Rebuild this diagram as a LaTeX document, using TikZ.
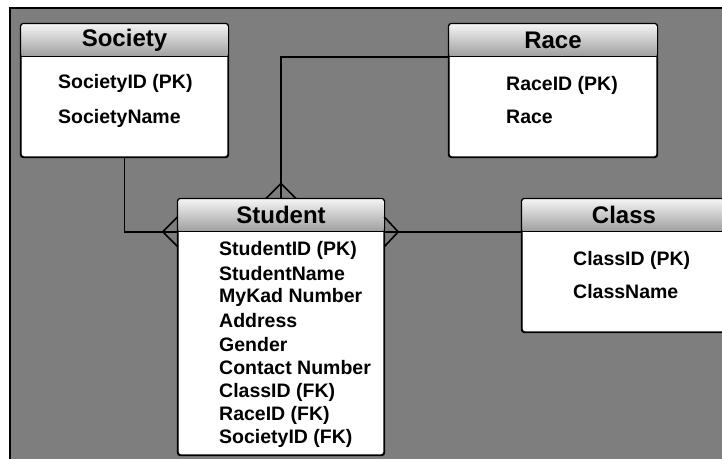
\documentclass[tikz,border=0pt]{standalone}
\usepackage{fontspec}
\setmainfont{Liberation Sans}
\definecolor{bggray}{HTML}{7E7E7E}
\begin{document}
\begin{tikzpicture}[x=1pt, y=-1pt,
  ebox/.style={draw, line width=1.2pt, rectangle, rounded corners=3pt,
               fill=white, inner sep=0pt},
  ehead/.style={rectangle, rounded corners=3pt, inner sep=0pt, anchor=north,
                minimum height=33pt, top color=white!96!black, bottom color=black!38,
                font=\fontsize{24}{28}\selectfont\bfseries},
  attr/.style={anchor=west, inner sep=0pt, font=\fontsize{19.5}{22}\selectfont\bfseries},
  rel/.style={line width=1.6pt},
  edge/.style={line width=1.2pt},
]
\useasboundingbox (0,0) rectangle (722,459);
\fill[bggray] (10,8) rectangle (722,459);
\draw[line width=1.5pt] (10,459) -- (10,8) -- (722,8);
% entity boxes
\node[ebox, minimum width=207pt, minimum height=133pt] (soc) at (124.5,90.5) {};
\node[ebox, minimum width=208pt, minimum height=133pt] (race) at (553,90.5) {};
\node[ebox, minimum width=206pt, minimum height=256pt] (stu) at (281,327) {};
\node[ebox, minimum width=204pt, minimum height=133pt] (cls) at (624,265.5) {};
\node[ehead, minimum width=207pt] (soch) at (soc.north) {Society};
\node[ehead, minimum width=208pt] (raceh) at (race.north) {Race};
\node[ehead, minimum width=206pt] (stuh) at (stu.north) {Student};
\node[ehead, minimum width=204pt] (clsh) at (cls.north) {Class};
\draw[edge, rounded corners=3pt] (soc.north west) rectangle (soc.south east);
\draw[edge, rounded corners=3pt] (race.north west) rectangle (race.south east);
\draw[edge, rounded corners=3pt] (stu.north west) rectangle (stu.south east);
\draw[edge, rounded corners=3pt] (cls.north west) rectangle (cls.south east);
\draw[edge] (soch.south west) -- (soch.south east);
\draw[edge] (raceh.south west) -- (raceh.south east);
\draw[edge] (stuh.south west) -- (stuh.south east);
\draw[edge] (clsh.south west) -- (clsh.south east);
% attributes
\node[attr] (socid) at (58,83) {SocietyID (PK)};
\node[attr] (socname) at (58,118) {SocietyName};
\node[attr] (raceid) at (506,85) {RaceID (PK)};
\node[attr] (racename) at (506,117) {Race};
\node[attr] (clsid) at (573,260) {ClassID (PK)};
\node[attr] (clsname) at (573,292) {ClassName};
\node[attr] (stuid) at (219,250) {StudentID (PK)};
\node[attr] (stuname) at (219,274) {StudentName};
\node[attr] (stukad) at (219,297) {MyKad Number};
\node[attr] (stuaddr) at (219,321) {Address};
\node[attr] (stugen) at (219,345) {Gender};
\node[attr] (stucon) at (219,368) {Contact Number};
\node[attr] (stucls) at (219,392) {ClassID (FK)};
\node[attr] (sturace) at (219,415) {RaceID (FK)};
\node[attr] (stusoc) at (219,438) {SocietyID (FK)};
% relationships with crow's feet
\draw[rel] (soc.south) |- (stuh.south west);
\draw[rel] ([yshift=15pt]stuh.south west) -- ([xshift=-15pt]stuh.south west)
           -- ([yshift=-15pt]stuh.south west);
\draw[rel] (raceh.south west) -| (stu.north);
\draw[rel] ([xshift=-15pt]stu.north) -- ([yshift=15pt]stu.north)
           -- ([xshift=15pt]stu.north);
\draw[rel] (clsh.south west) -- (stuh.south east);
\draw[rel] ([yshift=15pt]stuh.south east) -- ([xshift=14pt]stuh.south east)
           -- ([yshift=-15pt]stuh.south east);
\end{tikzpicture}
\end{document}
